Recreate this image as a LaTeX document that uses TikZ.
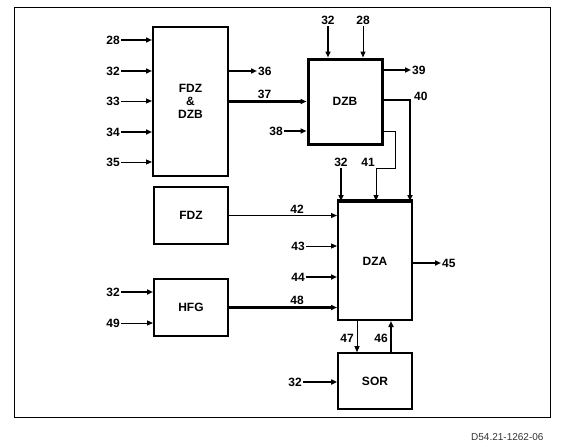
\documentclass[tikz,border=0pt]{standalone}
\usepackage{fontspec}
\setmainfont{Liberation Sans}
\usetikzlibrary{arrows.meta}

\begin{document}
\begin{tikzpicture}[x=1pt, y=-1pt,
    box/.style={draw, line width=2pt, align=center, font=\bfseries\fontsize{12}{13}\selectfont},
    sig/.style={inner sep=1pt, font=\bfseries\fontsize{12}{13}\selectfont},
    fat/.style={line width=2.1pt, -{Triangle[length=6pt,width=5pt]}},
    lean/.style={line width=1pt, -{Triangle[length=6pt,width=5pt]}}]
  \useasboundingbox (0,0) rectangle (566,447);
  \draw[line width=1pt] (14,7) rectangle (550,417);
  \node[anchor=east, text=black!80, font=\fontsize{10}{11}\selectfont] (docnr) at (547,437) {D54.21-1262-06};

  \node[box, minimum width=75pt, minimum height=149pt] (fdzdzb) at (190.5,101.5) {FDZ\\\&\\DZB};
  \node[box, line width=3pt, minimum width=74pt, minimum height=85pt] (dzb) at (345,101.5) {DZB};
  \node[box, minimum width=74pt, minimum height=57pt] (fdz) at (191,215.5) {FDZ};
  \node[box, minimum width=74pt, minimum height=57pt] (hfg) at (191,307.5) {HFG};
  \node[box, minimum width=74pt, minimum height=118pt] (dza) at (375,261) {DZA};
  \node[box, line width=1.6pt, minimum width=74pt, minimum height=56pt] (sor) at (375,381) {SOR};
  \draw[line width=3.5pt] (dza.north west) -- (dza.north east);

  \foreach \n/\y/\s in {28/40/fat,32/71/fat,33/101/lean,34/132/fat,35/162/lean}{
    \node[sig, anchor=east] (fin\n) at (121,\y) {\n};
    \draw[\s] (fin\n) -- (fdzdzb.west |- fin\n);
  }
  \node[sig, anchor=west] (out36) at (257,71) {36};
  \draw[fat] (fdzdzb.east |- out36) -- (out36);
  \draw[fat] (fdzdzb.east) -- node[sig, above, pos=0.46, yshift=1pt] (lab37) {37} (dzb.west);
  \node[sig, anchor=east] (in38) at (284,131) {38};
  \draw[fat] (in38) -- (dzb.west |- in38);

  \node[sig, anchor=south] (bin32) at (328,26) {32};
  \draw[fat] (bin32) -- (dzb.north -| bin32);
  \node[sig, anchor=south] (bin28) at (363,26) {28};
  \draw[lean] (bin28) -- (dzb.north -| bin28);
  \node[sig, anchor=west] (out39) at (411,70) {39};
  \draw[fat] (dzb.east |- out39) -- (out39);

  \coordinate (k40) at (410,100);
  \node[sig, anchor=west] (lab40) at (413,96) {40};
  \draw[fat] (dzb.east |- k40) -| (dza.north -| k40);
  \coordinate (k41) at (395,168);
  \coordinate (j41) at (376,168);
  \node[sig, anchor=south east] (lab41) at (j41) {41};
  \draw[lean] (dzb.east |- in38) -| (k41) -- (j41) -- (dza.north -| j41);
  \node[sig, anchor=south] (ain32) at (341,168) {32};
  \draw[fat] (ain32) -- (dza.north -| ain32);

  \draw[lean] (fdz.east) -- node[sig, above, pos=0.63, yshift=1pt] (lab42) {42} (dza.west |- fdz.east);
  \node[sig, anchor=east] (ain43) at (306,246) {43};
  \draw[lean] (ain43) -- (dza.west |- ain43);
  \node[sig, anchor=east] (ain44) at (306,277) {44};
  \draw[fat] (ain44) -- (dza.west |- ain44);
  \draw[fat] (hfg.east) -- node[sig, above, pos=0.63, yshift=1pt] (lab48) {48} (dza.west |- hfg.east);
  \node[sig, anchor=west] (out45) at (441,263) {45};
  \draw[fat] (dza.east |- out45) -- (out45);

  \node[sig, anchor=east] (hin32) at (121,292) {32};
  \draw[fat] (hin32) -- (hfg.west |- hin32);
  \node[sig, anchor=east] (hin49) at (121,323) {49};
  \draw[lean] (hin49) -- (hfg.west |- hin49);

  \coordinate (k47) at (357,338);
  \node[sig, anchor=east, xshift=-2pt] (lab47) at (k47) {47};
  \draw[lean] (dza.south -| k47) -- (sor.north -| k47);
  \coordinate (k46) at (391,338);
  \node[sig, anchor=east, xshift=-2pt] (lab46) at (k46) {46};
  \draw[fat] (sor.north -| k46) -- (dza.south -| k46);
  \node[sig, anchor=east] (sin32) at (303,382) {32};
  \draw[fat] (sin32) -- (sor.west |- sin32);
\end{tikzpicture}
\end{document}
